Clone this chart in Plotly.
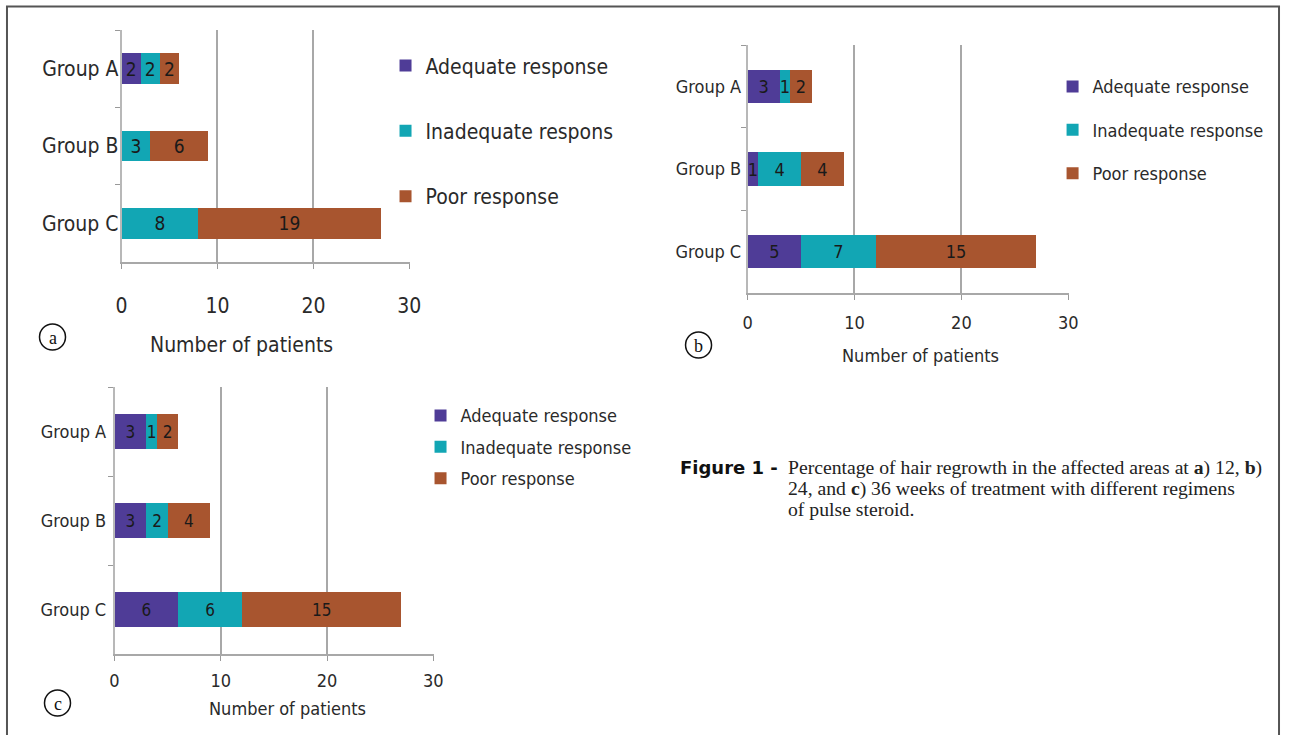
import plotly.graph_objects as go

W, H = 1292, 735
# the photographed page is squeezed slightly in x; positions below are
# given in photo pixels and mapped back to page pixels
SX, OX = 0.986, 5.5

groups = ["Group A", "Group B", "Group C"]
series = ["Adequate response", "Inadequate response", "Poor response"]
legend_names_a = ["Adequate response", "Inadequate respons", "Poor response"]

# panel a (12 weeks)
a_adequate = [2, 0, 0]
a_inadequate = [2, 3, 8]
a_poor = [2, 6, 19]
# panel b (24 weeks)
b_adequate = [3, 1, 5]
b_inadequate = [1, 4, 7]
b_poor = [2, 4, 15]
# panel c (36 weeks)
c_adequate = [3, 3, 6]
c_inadequate = [1, 2, 6]
c_poor = [2, 4, 15]

x_ticks = [0, 10, 20, 30]
x_title = "Number of patients"
caption_head = "Figure 1 -"
caption_lines = [
    "Percentage of hair regrowth in the affected areas at <b>a</b>) 12, <b>b</b>)",
    "24, and <b>c</b>) 36 weeks of treatment with different regimens",
    "of pulse steroid.",
]

colors = ["#4F3C97", "#12A6B4", "#A8552F"]
NARROW = "DejaVu Sans Condensed, Liberation Sans Narrow, sans-serif"
SERIF = "Liberation Serif, DejaVu Serif, serif"
TXT = "#2a2a2a"


def px(x):
    page = (x - OX) / SX
    return min(max(page, 0.0), W) / W


def py(y):
    return 1 - y / H


panels = [
    dict(key="", data=[a_adequate, a_inadequate, a_poor], names=legend_names_a,
         x0=121, x1=409, y0=30, y1=262, font=21, barfont=19, tickstand=19, ystand=-3,
         legend=dict(tx=425, ty=68, gap=35), title=(241, 345, 21),
         circle=(52, 337, "a")),
    dict(key="2", data=[b_adequate, b_inadequate, b_poor], names=series,
         x0=747, x1=1068, y0=45, y1=293, font=18, barfont=18, tickstand=7, ystand=1,
         legend=dict(tx=1092, ty=89, gap=17), title=(920, 355, 18),
         circle=(698, 345, "b")),
    dict(key="3", data=[c_adequate, c_inadequate, c_poor], names=series,
         x0=114, x1=433, y0=387, y1=654, font=18, barfont=17, tickstand=4, ystand=3,
         legend=dict(tx=460, ty=418, gap=5), title=(287, 708, 18),
         circle=(57, 703, "c")),
]

fig = go.Figure()
layout = dict(
    width=W, height=H, margin=dict(l=0, r=0, t=0, b=0),
    paper_bgcolor="white", plot_bgcolor="white",
    barmode="stack", bargap=0.6, showlegend=True,
)
annotations = []
shapes = []

for p in panels:
    k = p["key"]
    lg = "legend" + k
    for i, (vals, name) in enumerate(zip(p["data"], p["names"])):
        fig.add_trace(go.Bar(
            y=groups, x=vals, orientation="h", name=name,
            xaxis="x" + k, yaxis="y" + k, legend=lg,
            legendgroup=f"g{k}{i}",
            marker=dict(color=colors[i], line=dict(width=0)),
            text=[str(v) if v else "" for v in vals],
            textposition="inside", insidetextanchor="middle",
            textangle=0, constraintext="none",
            textfont=dict(family=NARROW, size=p["barfont"], color="#1a1a1a"),
            hoverinfo="skip",
        ))
    xa = dict(
        domain=[px(p["x0"]), px(p["x1"])], range=[0, 30.02],
        anchor="y" + k, tickvals=x_ticks, ticks="outside", ticklen=5,
        tickcolor="#999", showgrid=True, gridcolor="#a8a8a8", gridwidth=1.5,
        showline=True, linecolor="#a8a8a8", linewidth=2, zeroline=False,
        tickfont=dict(family=NARROW, size=p["font"], color=TXT),
        ticklabelstandoff=p["tickstand"], fixedrange=True,
    )
    ya = dict(
        domain=[py(p["y1"]), py(p["y0"])], anchor="x" + k, type="category",
        categoryorder="array", categoryarray=groups, range=[2.5, -0.5],
        ticks="outside", ticklen=5, tickcolor="#999", tickson="boundaries",
        showgrid=False, showline=True, linecolor="#b8b8b8", linewidth=1.5,
        tickfont=dict(family=NARROW, size=p["font"], color=TXT),
        ticklabelstandoff=p["ystand"], fixedrange=True,
    )
    layout["xaxis" + k] = xa
    layout["yaxis" + k] = ya
    L = p["legend"]
    layout[lg] = dict(
        x=px(L["tx"] - 40), xanchor="left",
        y=py(L["ty"] - (0.6 * p["font"] + 10)), yanchor="top",
        font=dict(family=NARROW, size=p["font"], color=TXT),
        bgcolor="rgba(0,0,0,0)", tracegroupgap=L["gap"],
        itemclick=False, itemdoubleclick=False,
    )
    tx, ty, tf = p["title"]
    annotations.append(dict(
        x=px(tx), y=py(ty), xref="paper", yref="paper", text=x_title,
        showarrow=False, xanchor="center", yanchor="middle",
        font=dict(family=NARROW, size=tf, color=TXT),
    ))
    cx, cy, letter = p["circle"]
    shapes.append(dict(type="circle", xref="paper", yref="paper",
                       x0=px(cx - 13), x1=px(cx + 13), y0=py(cy + 13), y1=py(cy - 13),
                       line=dict(color="#111", width=1.5)))
    annotations.append(dict(
        x=px(cx), y=py(cy + 1), xref="paper", yref="paper", text=letter,
        showarrow=False, xanchor="center", yanchor="middle",
        font=dict(family=SERIF, size=18, color="#111"),
    ))

# caption
annotations.append(dict(
    x=px(677), y=py(467), xref="paper", yref="paper", text="<b>" + caption_head + "</b>",
    showarrow=False, xanchor="left", yanchor="middle",
    font=dict(family="DejaVu Sans, sans-serif", size=18, color="#111"),
))
for j, line in enumerate(caption_lines):
    annotations.append(dict(
        x=px(785), y=py(467 + 21 * j), xref="paper", yref="paper", text=line,
        showarrow=False, xanchor="left", yanchor="middle",
        font=dict(family=SERIF, size=19.7, color="#222"),
    ))

# frame (top, left, right)
fr = [(0.0, 6.5, 1.0, 6.5), (1.0 / W, 6.0, 1.0 / W, 735.0), (1 - 1.0 / W, 6.0, 1 - 1.0 / W, 735.0)]
for (x0, y0, x1, y1) in fr:
    shapes.append(dict(type="line", xref="paper", yref="paper",
                       x0=x0, x1=x1, y0=py(y0), y1=py(y1),
                       line=dict(color="#555", width=2)))

layout["annotations"] = annotations
layout["shapes"] = shapes
fig.update_layout(**layout)
fig.write_html(
    "out.html",
    config={"displayModeBar": False},
    post_script=("document.body.style.margin='0';"
                 "document.body.style.overflow='hidden';"
                 "document.documentElement.style.overflow='hidden';"),
)
